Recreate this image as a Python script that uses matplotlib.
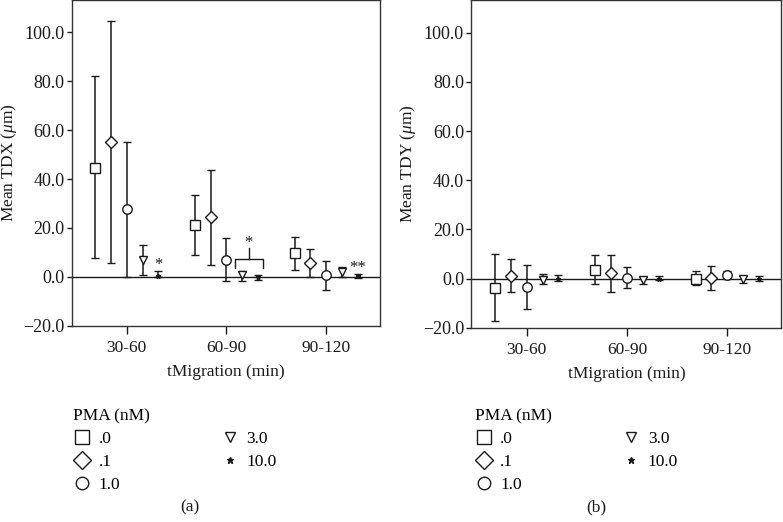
import numpy as np
import matplotlib
matplotlib.use('Agg')
import matplotlib.pyplot as plt
from matplotlib.lines import Line2D

plt.rcParams['font.family'] = ['Liberation Serif', 'DejaVu Serif']
plt.rcParams['mathtext.fontset'] = 'custom'
plt.rcParams['mathtext.rm'] = 'Liberation Serif'
plt.rcParams['mathtext.it'] = 'Liberation Serif:italic'

# Datos
groups = ['30-60', '60-90', '90-120']
pma_labels = ['.0', '.1', '1.0', '3.0', '10.0']

tdx_mean = [[44.7, 21.4, 9.6], [55.1, 24.3, 5.7], [27.7, 7.1, 0.7], [6.8, 0.7, 1.8], [0.5, 0.0, 0.3]]
tdx_lo = [[7.9, 8.9, 3.0], [5.7, 4.7, 0.0], [0.0, -1.8, -5.2], [0.7, -1.8, 0.0], [0.0, -1.1, -0.5]]
tdx_hi = [[82.1, 33.7, 16.2], [104.9, 43.8, 11.3], [55.2, 15.7, 6.5], [13.0, 2.3, 4.1], [2.3, 0.7, 1.1]]

tdy_mean = [[-3.7, 3.7, 0.0], [0.9, 2.3, 0.2], [-3.4, 0.4, 1.3], [-0.7, -0.7, -0.3], [0.0, 0.0, 0.0]]
tdy_lo = [[-17.4, -2.3, -2.7], [-5.4, -5.4, -4.8], [-12.2, -3.8, -0.3], [-2.3, -2.3, -1.9], [-1.0, -0.7, -1.0]]
tdy_hi = [[10.2, 9.8, 3.0], [7.9, 9.8, 5.1], [5.4, 4.7, 3.0], [1.8, 0.7, 0.9], [1.4, 0.9, 1.0]]

markers = ['s', 'D', 'o', 'v', '*']
msizes = [6.8, 5.8, 6.8, 5.5, 3.5]
offsets = [-0.315, -0.158, 0.0, 0.16, 0.318]
col = '#1a1a1a'

fig = plt.figure(figsize=(7.83, 5.22), dpi=100)
ax_a = fig.add_axes([0.092, 0.376, 0.393, 0.624])
ax_b = fig.add_axes([0.602, 0.372, 0.396, 0.628])


def panel(ax, mean, lo, hi, ylabel):
    x = np.arange(len(groups))
    for i in range(len(pma_labels)):
        m = np.array(mean[i])
        l = np.array(lo[i])
        h = np.array(hi[i])
        face = col if markers[i] == '*' else 'white'
        ax.errorbar(x + offsets[i], m, yerr=[m - l, h - m], fmt=markers[i],
                    ms=msizes[i], mfc=face, mec=col, mew=1.0, ecolor=col,
                    elinewidth=1.1, capsize=2.8, capthick=1.1, zorder=3)
    ax.axhline(0, color=col, lw=1.0, zorder=2)
    ax.set_xlim(-0.55, 2.54)
    ax.set_ylim(-20, 113.3)
    ax.set_xticks(x)
    ax.set_xticklabels(groups)
    yt = np.arange(-20, 101, 20)
    ax.set_yticks(yt)
    ax.set_yticklabels([('%.1f' % v).replace('-', '\u2212') for v in yt])
    ax.tick_params(direction='out', width=1, colors=col, labelsize=12.5)
    ax.tick_params(axis='y', length=3.8, pad=1.5, labelsize=13)
    ax.tick_params(axis='x', length=6, pad=4)
    for s in ax.spines.values():
        s.set_color('#333333')
        s.set_linewidth(1.0)
    ax.set_xlabel('tMigration (min)', fontsize=12.5, color=col, labelpad=6)
    ax.set_ylabel(ylabel, fontsize=12.5, color=col)
    ax.yaxis.set_label_coords(-0.172, 0.5)


panel(ax_a, tdx_mean, tdx_lo, tdx_hi, r'Mean TDX ($\mathit{\mu}$m)')
panel(ax_b, tdy_mean, tdy_lo, tdy_hi, r'Mean TDY ($\mathit{\mu}$m)')

# Significancia en (a)
ax_a.text(0 + offsets[4], 1.6, '*', ha='center', va='bottom', fontsize=12, color=col)
ax_a.plot([1.084, 1.084, 1.366, 1.366], [3.5, 7.5, 7.5, 3.5], color=col, lw=1.0)
ax_a.plot([1.225, 1.225], [7.5, 11.7], color=col, lw=1.0)
ax_a.text(1.225, 10.6, '*', ha='center', va='bottom', fontsize=12, color=col)
ax_a.text(2 + offsets[4], 0.2, '**', ha='center', va='bottom', fontsize=12, color=col)

# Leyendas
for xleg in [0.085, 0.598]:
    handles = []
    for i in range(len(pma_labels)):
        face = col if markers[i] == '*' else 'white'
        ms = [9.5, 9.0, 9.0, 7.5, 4.5][i]
        handles.append(Line2D([], [], ls='none', marker=markers[i], ms=ms,
                              mfc=face, mec=col, mew=1.0, label=pma_labels[i]))
    fig.legend(handles=handles, loc='upper left', bbox_to_anchor=(xleg, 0.23),
               ncol=2, frameon=False, title='PMA (nM)', alignment='left',
               fontsize=12.5, title_fontsize=12.5, handlelength=1.0,
               handletextpad=0.45, labelspacing=0.37, columnspacing=5.8,
               borderaxespad=0)

fig.text(189.5 / 783, 1 - 507 / 522, '(a)', ha='center', va='center', fontsize=12.5, color=col)
fig.text(596.7 / 783, 1 - 507 / 522, '(b)', ha='center', va='center', fontsize=12.5, color=col)

fig.savefig('out.png', dpi=100)
